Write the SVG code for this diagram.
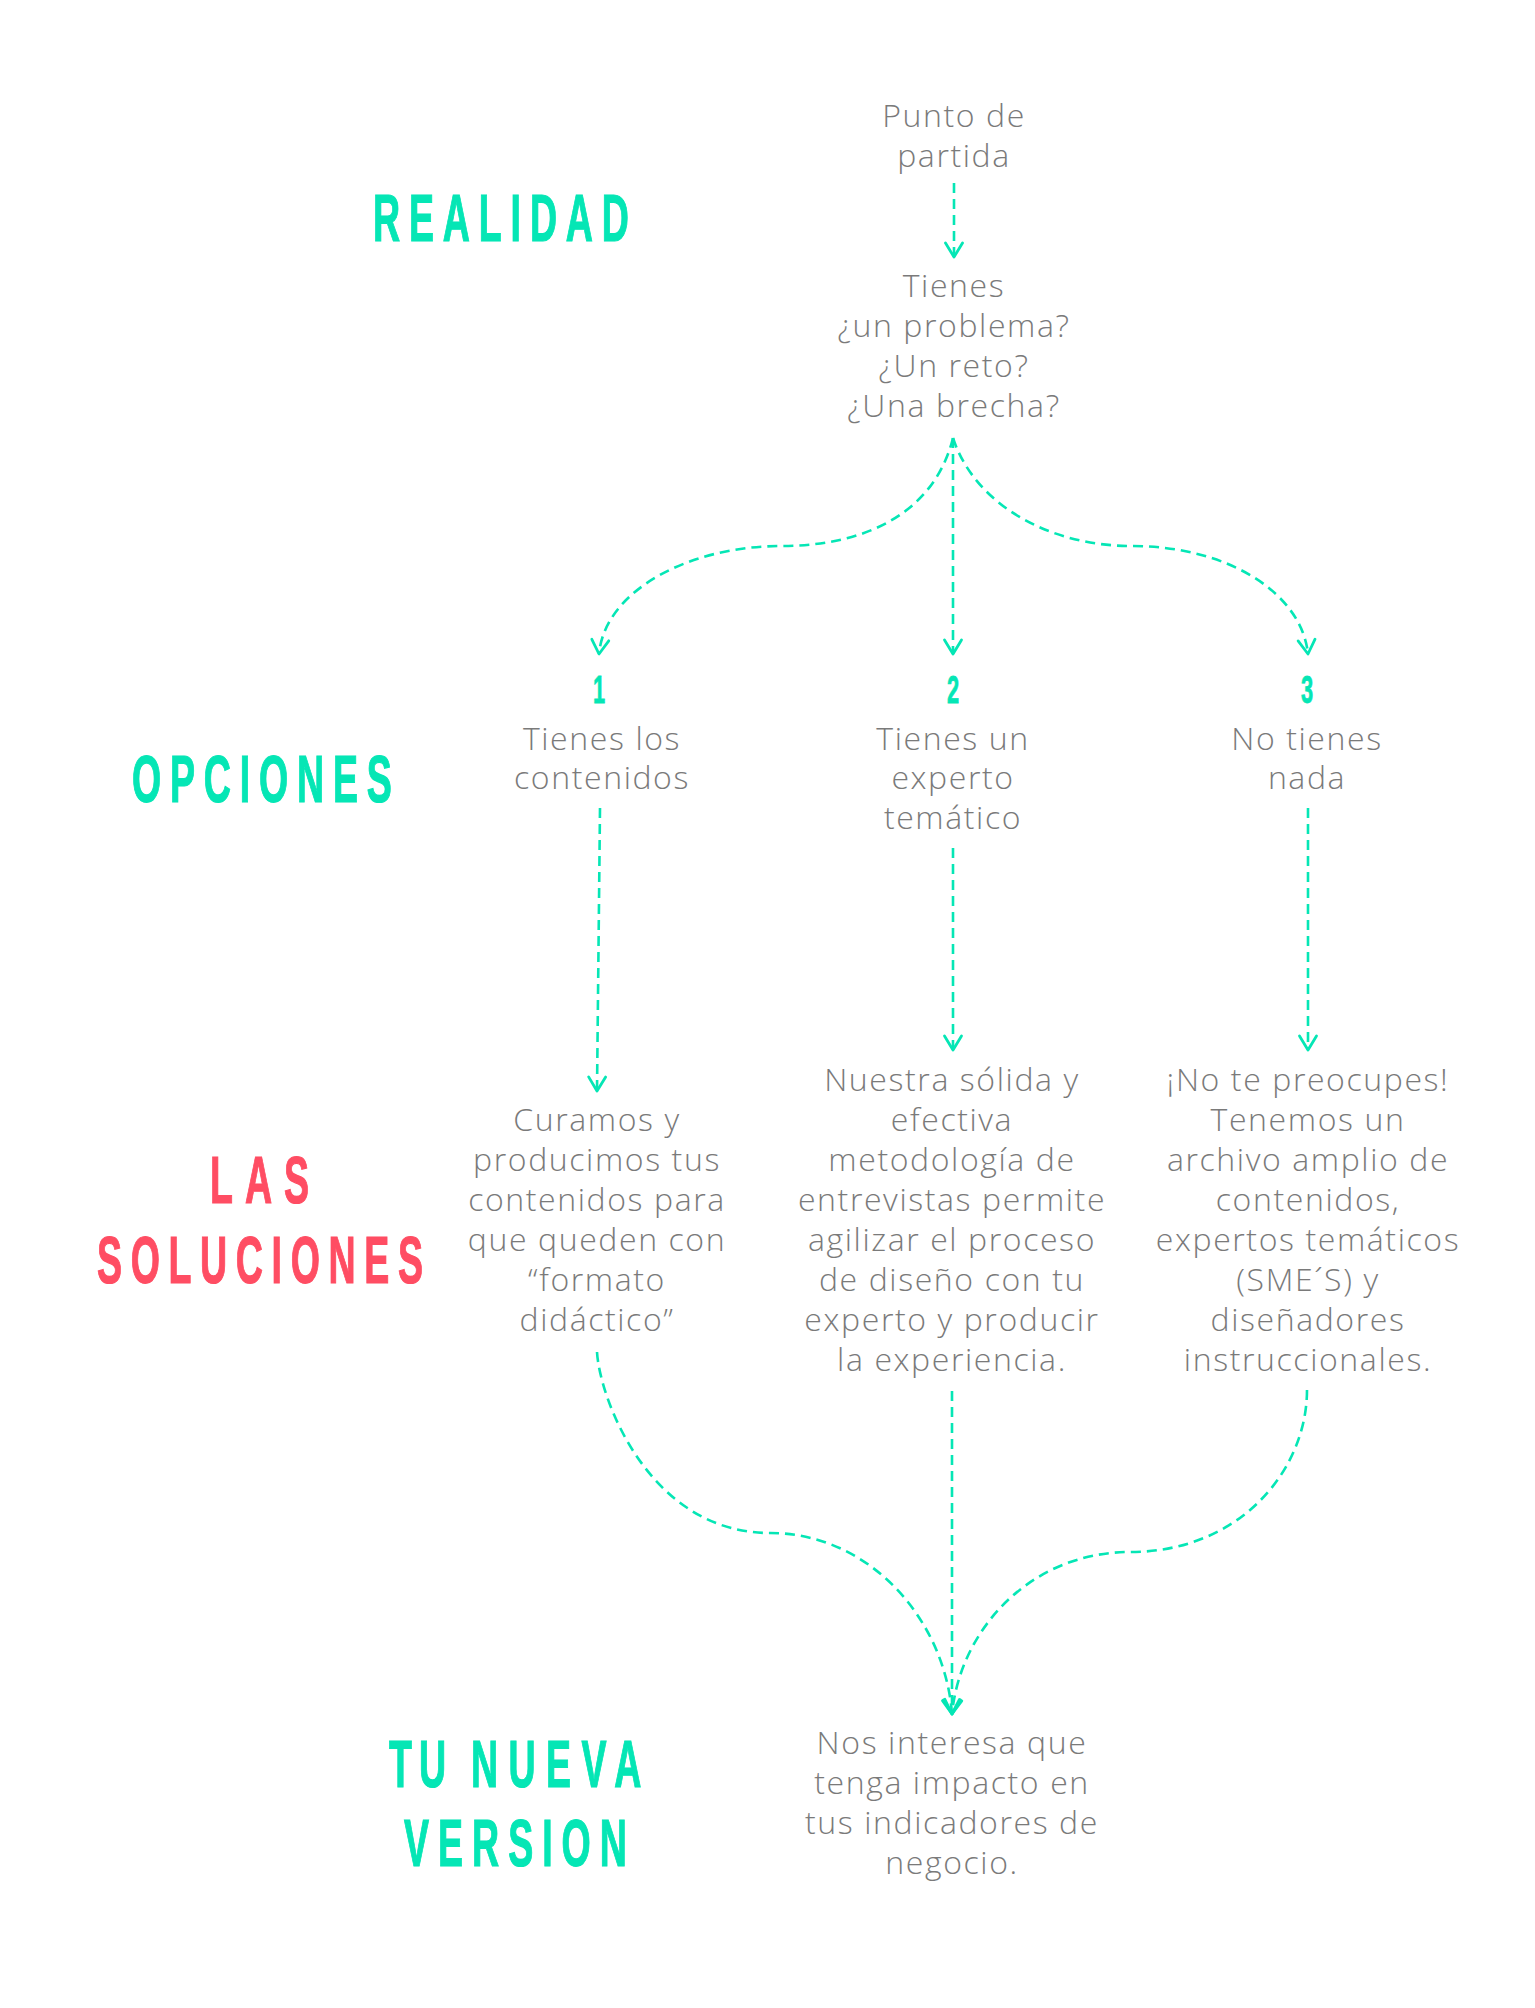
<svg xmlns="http://www.w3.org/2000/svg" width="1535" height="2008" viewBox="0 0 1535 2008">
<defs>
<marker id="chev" markerUnits="userSpaceOnUse" markerWidth="40" markerHeight="40" refX="0" refY="0" orient="auto" overflow="visible">
<path d="M-14,-8.5 L0,0 L-14,8.5" fill="none" stroke="#05e6b5" stroke-width="2.8" stroke-linecap="round" stroke-linejoin="round"/>
</marker>
<style>
.t{font-family:"Open Sans","Noto Sans",sans-serif;font-weight:300;font-size:32px;letter-spacing:1.6px;fill:#7a7a7a;text-anchor:middle}
.h{font-family:"Liberation Sans",Arial,sans-serif;font-weight:700;font-size:67px;fill:#05e6b5;stroke:#05e6b5;stroke-width:1.2}
.red{fill:#ff4d63;stroke:#ff4d63}
.num{font-family:"Liberation Sans",Arial,sans-serif;font-weight:700;font-size:39px;fill:#05e6b5;stroke:#05e6b5;stroke-width:0.8;text-anchor:middle}
.c{fill:none;stroke:#05e6b5;stroke-width:2.6;stroke-dasharray:10 6;marker-end:url(#chev)}
</style>
</defs>
<rect width="1535" height="2008" fill="#ffffff"/>

<g id="titles">
<g id="title-realidad"><text class="h" transform="translate(373,241) scale(0.56,1)" textLength="457" lengthAdjust="spacing">REALIDAD</text></g>
<g id="title-opciones"><text class="h" transform="translate(132,802) scale(0.56,1)" textLength="464" lengthAdjust="spacing">OPCIONES</text></g>
<g id="title-soluciones">
<text class="h red" transform="translate(210,1203) scale(0.56,1)" textLength="177" lengthAdjust="spacing">LAS</text>
<text class="h red" transform="translate(97,1283) scale(0.56,1)" textLength="582" lengthAdjust="spacing">SOLUCIONES</text>
</g>
<g id="title-version">
<text class="h" transform="translate(389,1787) scale(0.56,1)" textLength="102" lengthAdjust="spacing">TU</text>
<text class="h" transform="translate(471,1787) scale(0.56,1)" textLength="304" lengthAdjust="spacing">NUEVA</text>
<text class="h" transform="translate(404,1866) scale(0.56,1)" textLength="398" lengthAdjust="spacing">VERSION</text>
</g>
</g>

<g id="connectors">
<path class="c" d="M954,183 L954,257"/>
<path class="c" d="M953,438 C935,510 870,546 781,546 C690,546 605,590 599,654"/>
<path class="c" d="M953,438 L953,654"/>
<path class="c" d="M953,438 C975,505 1050,546 1131,546 C1231,546 1302,595 1308,654"/>
<path class="c" d="M600,808 L597,1091"/>
<path class="c" d="M953,848 L953,1050"/>
<path class="c" d="M1308,808 L1308,1050"/>
<path class="c" d="M597,1352 C600,1400 650,1533 770,1533 C870,1533 945,1620 952,1714"/>
<path class="c" d="M952,1391 L952,1714"/>
<path class="c" d="M1307,1390 C1307,1470 1240,1552 1130,1552 C1030,1552 960,1630 952,1714"/>
</g>

<g id="node-start">
<text class="t"><tspan x="954" y="127">Punto de</tspan><tspan x="954" y="167">partida</tspan></text>
</g>
<g id="node-problem">
<text class="t"><tspan x="954" y="297">Tienes</tspan><tspan x="954" y="337">¿un problema?</tspan><tspan x="954" y="377">¿Un reto?</tspan><tspan x="954" y="417">¿Una brecha?</tspan></text>
</g>

<g id="node-option-1">
<text class="num" transform="translate(599,703) scale(0.56,1)">1</text>
<text class="t"><tspan x="602" y="750">Tienes los</tspan><tspan x="602" y="789">contenidos</tspan></text>
</g>
<g id="node-option-2">
<text class="num" transform="translate(953,703) scale(0.56,1)">2</text>
<text class="t"><tspan x="953" y="750">Tienes un</tspan><tspan x="953" y="789">experto</tspan><tspan x="953" y="829">temático</tspan></text>
</g>
<g id="node-option-3">
<text class="num" transform="translate(1307,703) scale(0.56,1)">3</text>
<text class="t"><tspan x="1307" y="750">No tienes</tspan><tspan x="1307" y="789">nada</tspan></text>
</g>

<g id="node-solution-1">
<text class="t"><tspan x="597" y="1131">Curamos y</tspan><tspan x="597" y="1171">producimos tus</tspan><tspan x="597" y="1211">contenidos para</tspan><tspan x="597" y="1251">que queden con</tspan><tspan x="597" y="1291">“formato</tspan><tspan x="597" y="1331">didáctico”</tspan></text>
</g>
<g id="node-solution-2">
<text class="t"><tspan x="952" y="1091">Nuestra sólida y</tspan><tspan x="952" y="1131">efectiva</tspan><tspan x="952" y="1171">metodología de</tspan><tspan x="952" y="1211">entrevistas permite</tspan><tspan x="952" y="1251">agilizar el proceso</tspan><tspan x="952" y="1291">de diseño con tu</tspan><tspan x="952" y="1331">experto y producir</tspan><tspan x="952" y="1371">la experiencia.</tspan></text>
</g>
<g id="node-solution-3">
<text class="t"><tspan x="1308" y="1091">¡No te preocupes!</tspan><tspan x="1308" y="1131">Tenemos un</tspan><tspan x="1308" y="1171">archivo amplio de</tspan><tspan x="1308" y="1211">contenidos,</tspan><tspan x="1308" y="1251">expertos temáticos</tspan><tspan x="1308" y="1291">(SME´S) y</tspan><tspan x="1308" y="1331">diseñadores</tspan><tspan x="1308" y="1371">instruccionales.</tspan></text>
</g>

<g id="node-result">
<text class="t"><tspan x="952" y="1754">Nos interesa que</tspan><tspan x="952" y="1794">tenga impacto en</tspan><tspan x="952" y="1834">tus indicadores de</tspan><tspan x="952" y="1874">negocio.</tspan></text>
</g>
</svg>
